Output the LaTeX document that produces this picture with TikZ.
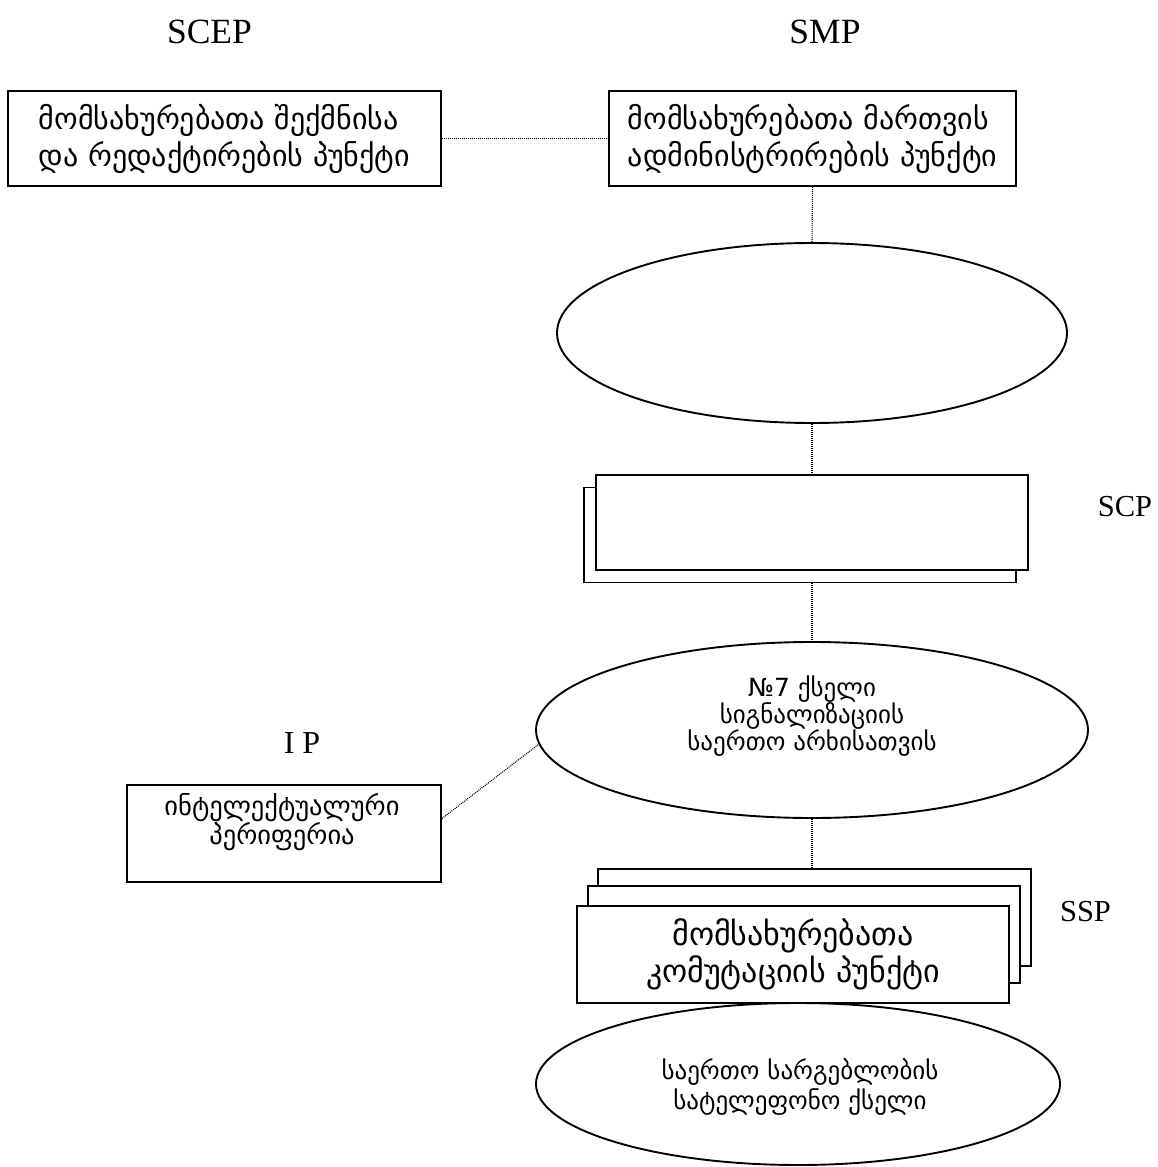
\documentclass[tikz,border=0pt]{standalone}
\usepackage{fontspec}
\setmainfont{Liberation Serif}
\newfontfamily\geo{DejaVu Sans}
\usetikzlibrary{shapes.geometric}
\begin{document}
\begin{tikzpicture}[x=1pt,y=-1pt,
  box/.style={draw,line width=1.9pt,fill=white,inner sep=0pt,rectangle,align=center},
  oval/.style={draw,line width=1.9pt,fill=white,inner sep=0pt,ellipse,align=center},
  lblL/.style={font=\fontsize{35.5}{40}\selectfont},
  lblS/.style={font=\fontsize{30.5}{36}\selectfont},
  big/.style={font=\geo\fontsize{32}{37}\selectfont},
  top/.style={font=\geo\fontsize{30}{37}\selectfont},
  txt/.style={inner sep=0pt,align=center},
  link/.style={line width=1.1pt,dash pattern=on 1pt off 1pt}]
\useasboundingbox (0,0) rectangle (1158,1167);
% labels
\node[lblL] (lscep) at (209.5,32) {SCEP};
\node[lblL] (lsmp) at (825,32) {SMP};
\node[lblS] (lscp) at (1125,507) {SCP};
\node[font=\fontsize{32}{36}\selectfont] (lip) at (302,743) {I P};
\node[lblS] (lssp) at (1085.5,912) {SSP};
% top boxes
\node[box,top,align=left,minimum width=433pt,minimum height=95pt] (scep) at (224.5,138.5)
  {მომსახურებათა შექმნისა\\და რედაქტირების პუნქტი};
\node[box,top,align=left,minimum width=407pt,minimum height=95pt] (smp) at (812.5,138.5)
  {მომსახურებათა მართვის\\ადმინისტრირების პუნქტი};
% ellipse 1
\node[oval,minimum width=510pt,minimum height=180pt] (e1) at (812,333) {};
% SCP stacked
\node[box,minimum width=432pt,minimum height=95pt] (scpb) at (800,535) {};
\node[box,minimum width=432pt,minimum height=95pt] (scp) at (812,522.5) {};
% ellipse 2
\node[oval,minimum width=552pt,minimum height=176pt] (e2) at (812,730) {};
\node[txt,font=\geo\fontsize{25}{27}\selectfont] (e2t) at (812,716)
  {№7 ქსელი\\სიგნალიზაციის\\საერთო არხისათვის};
% IP box
\node[box,minimum width=314pt,minimum height=97pt] (ip) at (284,833.5) {};
\node[txt,font=\geo\fontsize{26.5}{28}\selectfont] (ipt) at (282,822)
  {ინტელექტუალური\\პერიფერია};
% SSP stacked
\node[box,minimum width=433pt,minimum height=97pt] (sspb) at (814.5,917.5) {};
\node[box,minimum width=432pt,minimum height=97pt] (sspm) at (804,934.5) {};
\node[box,big,minimum width=432pt,minimum height=97pt] (ssp) at (793,954.5)
  {მომსახურებათა\\კომუტაციის პუნქტი};
% ellipse 3
\node[oval,minimum width=524pt,minimum height=162pt] (e3) at (798,1084) {};
\node[txt,font=\geo\fontsize{25}{30}\selectfont] (e3t) at (800,1087)
  {საერთო სარგებლობის\\სატელეფონო ქსელი};
% links
\draw[link] (scep.east) -- (smp.west);
\draw[link] (smp.south) -- (e1.north);
\draw[link] (e1.south) -- (scp.north);
\draw[link] (scpb.south -| e2.north) -- (e2.north);
\draw[link] (e2.south) -- (e2.south |- sspb.north);
\draw[link] ([yshift=15pt]ip.east) -- (e2.183);
\end{tikzpicture}
\end{document}
